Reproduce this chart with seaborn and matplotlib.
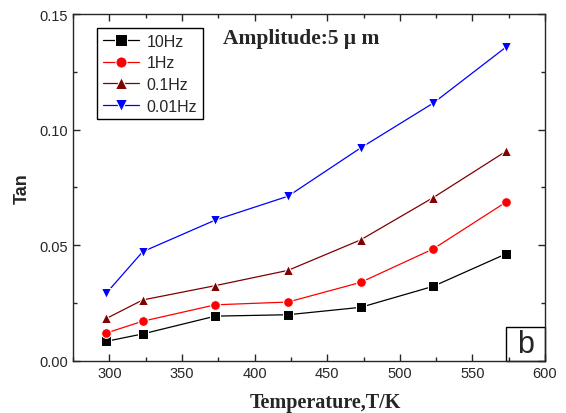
import pandas as pd
import matplotlib
matplotlib.use("Agg")
from matplotlib import pyplot as plt
from matplotlib.patches import Rectangle
from matplotlib.ticker import MultipleLocator
import seaborn as sns

temps = [298, 323, 373, 423, 473, 523, 573]
tan_10hz = [0.0084, 0.0116, 0.0193, 0.0199, 0.0231, 0.0322, 0.0462]
tan_1hz = [0.0120, 0.0171, 0.0242, 0.0254, 0.0339, 0.0484, 0.0686]
tan_01hz = [0.0183, 0.0263, 0.0325, 0.0391, 0.0523, 0.0706, 0.0906]
tan_001hz = [0.0293, 0.0472, 0.0609, 0.0712, 0.0921, 0.1115, 0.1357]
labels = ["10Hz", "1Hz", "0.1Hz", "0.01Hz"]


def build_frame():
    """ long-form table for seaborn """
    rows = []
    for lab, vals in zip(labels, [tan_10hz, tan_1hz, tan_01hz, tan_001hz]):
        for t, v in zip(temps, vals):
            rows.append({"T": t, "tan": v, "freq": lab})
    return pd.DataFrame(rows)


def main():
    sns.set_style("ticks")
    plt.rcParams["font.family"] = ["Liberation Sans", "DejaVu Sans"]
    plt.rcParams["axes.linewidth"] = 1.0

    df = build_frame()

    fig = plt.figure(figsize=(5.66, 4.14), dpi=100)
    ax = fig.add_axes([0.129, 0.1263, 0.834, 0.837])

    palette = {"10Hz": "#000000", "1Hz": "#ff0000", "0.1Hz": "#800000", "0.01Hz": "#0000ff"}
    markers = {"10Hz": "s", "1Hz": "o", "0.1Hz": "^", "0.01Hz": "v"}
    sns.lineplot(data=df, x="T", y="tan", hue="freq", style="freq",
                 palette=palette, markers=markers, dashes=False,
                 markersize=7, linewidth=0.9, ax=ax)

    ax.set_xlim(275, 600)
    ax.set_ylim(0, 0.15)
    ax.xaxis.set_major_locator(MultipleLocator(50))
    ax.xaxis.set_minor_locator(MultipleLocator(25))
    ax.yaxis.set_major_locator(MultipleLocator(0.05))
    ax.yaxis.set_minor_locator(MultipleLocator(0.025))
    ax.yaxis.set_major_formatter(matplotlib.ticker.FormatStrFormatter("%.2f"))
    ax.tick_params(which="both", direction="in", top=True, right=True, labelsize=10.5)
    ax.tick_params(which="major", length=5, width=1)
    ax.tick_params(which="minor", length=2.8, width=1)
    for s in ax.spines.values():
        s.set_visible(True)

    ax.set_xlabel("Temperature,T/K", family="Liberation Serif", fontweight="bold",
                  fontsize=14.5)
    ax.xaxis.set_label_coords(0.535, -0.09)
    ax.set_ylabel("Tan", fontweight="bold", fontsize=13)
    ax.yaxis.set_label_coords(-0.09, 0.5)

    # legend, rebuilt so every marker has the same size
    handles, labs = ax.get_legend_handles_labels()
    for h in handles:
        h.set_markersize(8)
    leg = ax.legend(handles, labs, loc="upper left", bbox_to_anchor=(0.051, 0.96),
                    borderaxespad=0, fontsize=11.5, handlelength=2.3, labelspacing=0.42,
                    fancybox=False, edgecolor="black", framealpha=1,
                    handletextpad=0.45, borderpad=0.35)
    leg.get_frame().set_linewidth(1.0)

    ax.text(378, 0.1395, "Amplitude:5 \u03bc m", family="Liberation Serif",
            fontweight="bold", fontsize=15.5, va="center", ha="left")

    ax.add_patch(Rectangle((0.917, 0), 0.083, 0.0964, transform=ax.transAxes,
                           fill=False, edgecolor="black", linewidth=1.0, clip_on=False))
    ax.text(0.9585, 0.048, "b", transform=ax.transAxes, fontsize=22,
            ha="center", va="center")

    fig.savefig("out.png", dpi=100)


if __name__ == "__main__":
    main()
